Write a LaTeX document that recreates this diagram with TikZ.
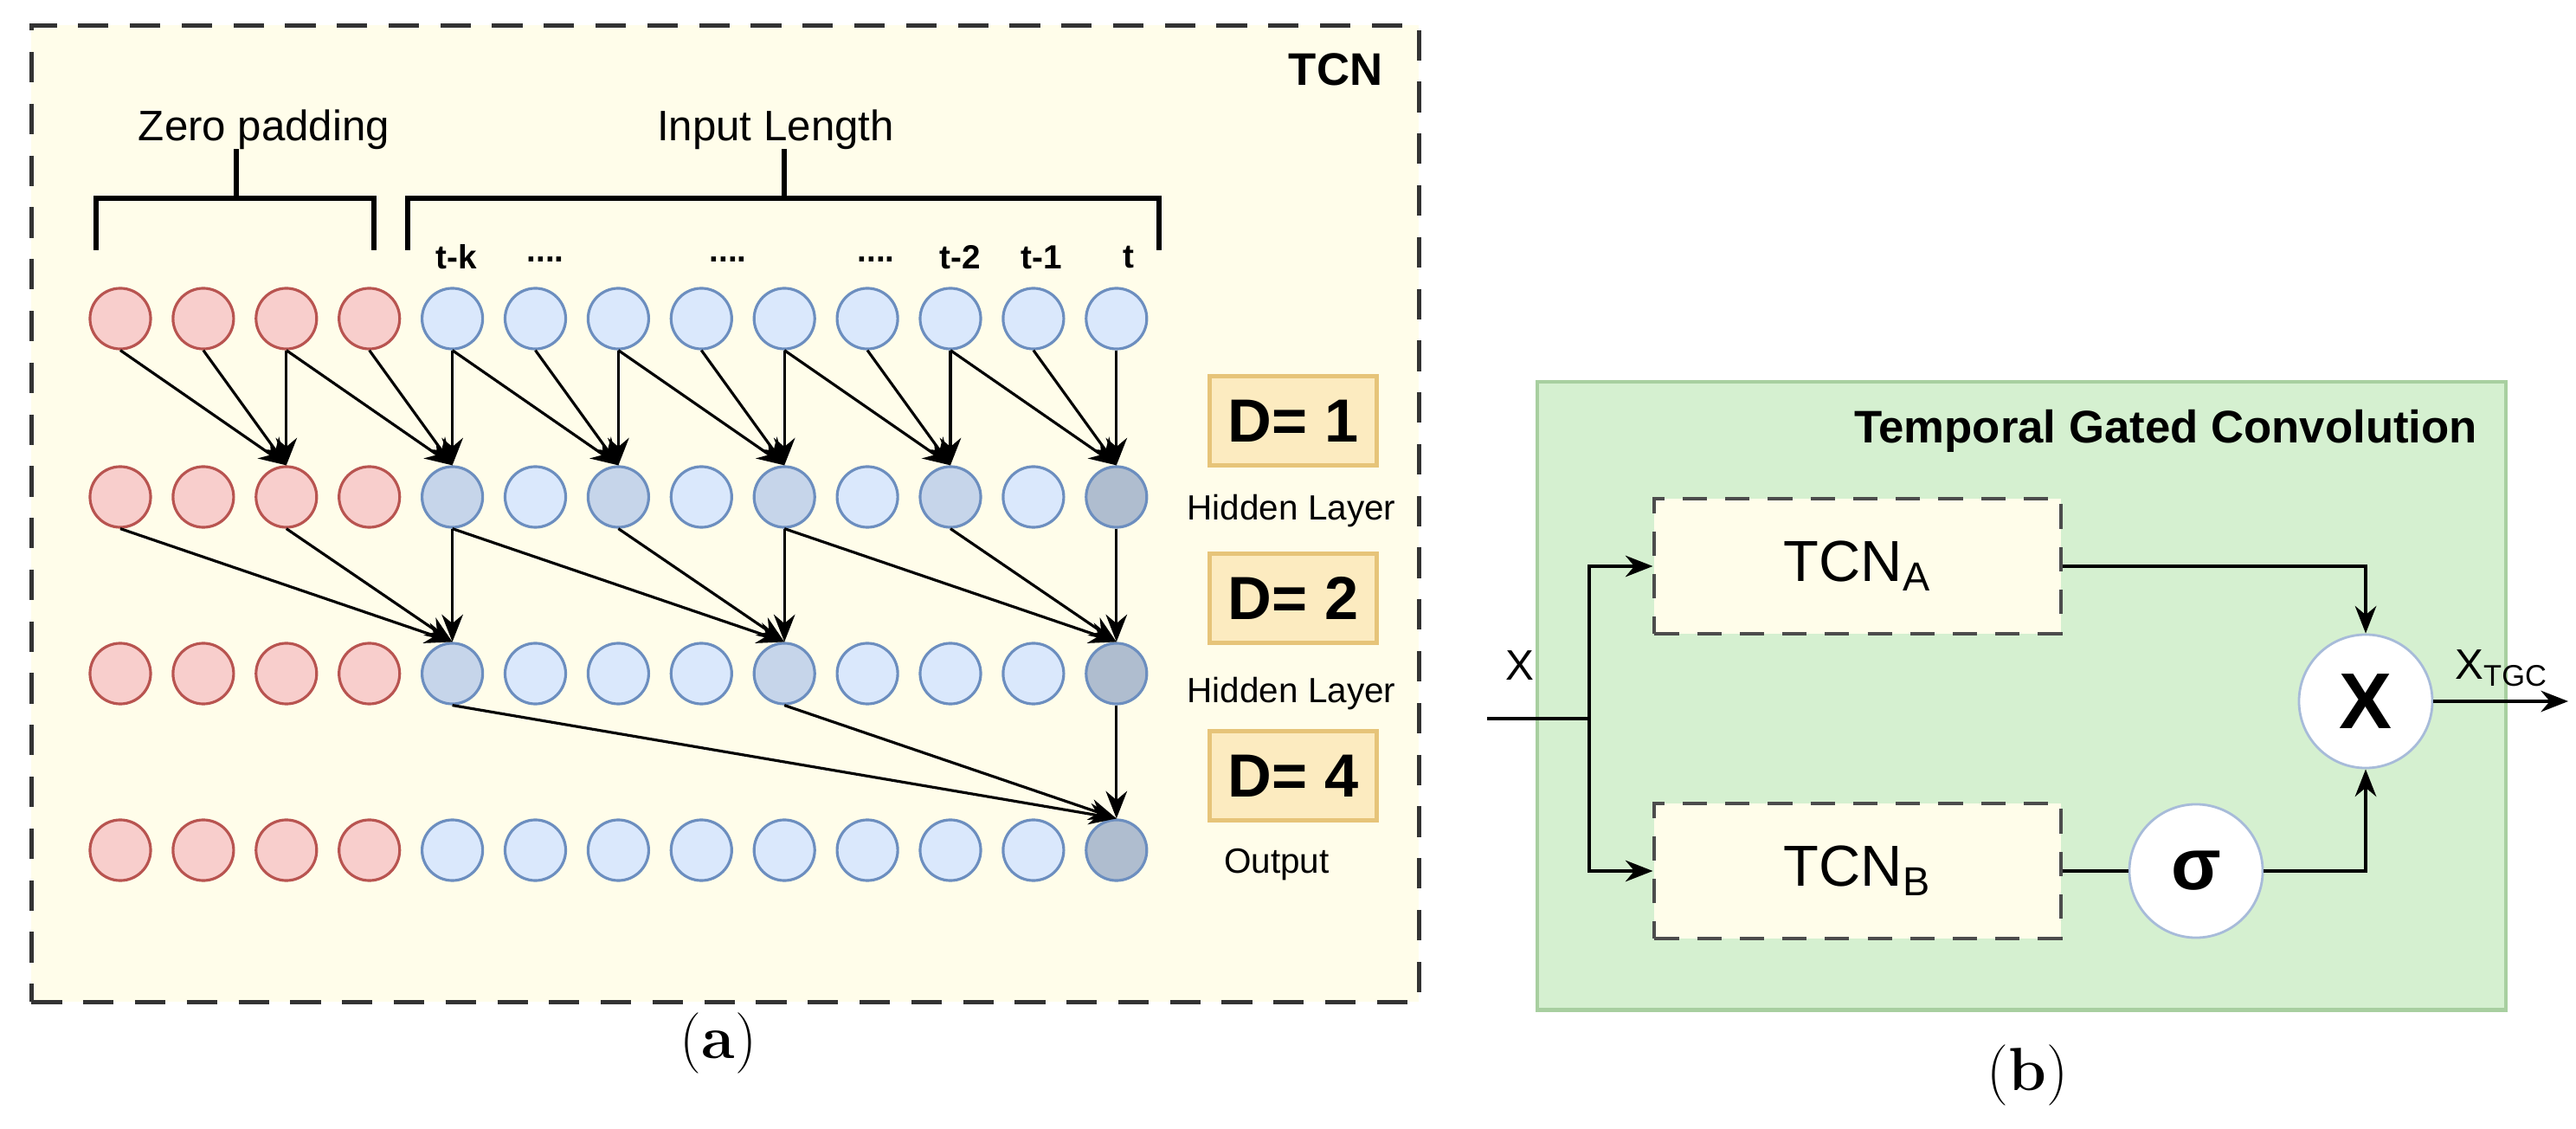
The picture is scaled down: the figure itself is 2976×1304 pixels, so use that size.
\documentclass[tikz,border=0pt]{standalone}
\usepackage{fontspec}
\newfontfamily\lsans{Liberation Sans}
\usetikzlibrary{arrows.meta}
\definecolor{zpf}{HTML}{F8CECC}\definecolor{zpd}{HTML}{B85450}
\definecolor{blf}{HTML}{DAE8FC}\definecolor{bld}{HTML}{6C8EBF}
\definecolor{midf}{HTML}{C6D5EA}\definecolor{dkf}{HTML}{AFBDCF}
\definecolor{yel}{HTML}{FFFDEA}\definecolor{grn}{HTML}{D5F0D0}\definecolor{grnd}{HTML}{A8CFA0}
\definecolor{df}{HTML}{FCEBC0}\definecolor{dd}{HTML}{E6C479}
\begin{document}
\begin{tikzpicture}[x=0.01cm,y=-0.01cm,
  cir/.style={circle,minimum size=0.7cm,inner sep=0pt,line width=0.9pt},
  zp/.style={cir,fill=zpf,draw=zpd},
  bl/.style={cir,fill=blf,draw=bld},
  mid/.style={cir,fill=midf,draw=bld},
  dk/.style={cir,fill=dkf,draw=bld},
  arr/.style={line width=0.9pt,-{Stealth[length=9pt,width=7pt]}},
  brk/.style={line width=1.6pt},
  lab/.style={font=\lsans\fontsize{14}{16}\selectfont},
  tl/.style={font=\lsans\bfseries\fontsize{11}{13}\selectfont},
  dbox/.style={fill=df,draw=dd,line width=1.2pt,minimum width=1.93cm,minimum height=1.03cm,font=\lsans\bfseries\fontsize{20}{22}\selectfont},
  hl/.style={font=\lsans\fontsize{11.5}{13}\selectfont},
  tbox/.style={fill=yel,draw=black!70,dash pattern=on 8pt off 6pt,line width=1.1pt,minimum width=4.69cm,minimum height=1.56cm,font=\lsans\fontsize{19}{22}\selectfont},
  opc/.style={circle,fill=white,draw=bld!60,line width=0.8pt,minimum size=1.54cm,inner sep=0pt}]
\useasboundingbox (0,0) rectangle (2976,1304);
% left panel
\node[fill=yel,draw=black!80,dash pattern=on 10pt off 7pt,line width=1.4pt,minimum width=16.02cm,minimum height=11.27cm,anchor=north west] (tcnbox) at (34,27) {};
\node[font=\lsans\bfseries\fontsize{15}{17}\selectfont] (tcnl) at (1543,80) {TCN};
\foreach \r/\y in {0/368,1/574,2/778,3/982}{
  \foreach \c in {0,...,3}{\node[zp] (n\r-\c) at ({139+95.9*\c},\y) {};}}
\foreach \c/\s in {4/bl,5/bl,6/bl,7/bl,8/bl,9/bl,10/bl,11/bl,12/bl}{\node[\s] (n0-\c) at ({139+95.9*\c},368) {};}
\foreach \c/\s in {4/mid,5/bl,6/mid,7/bl,8/mid,9/bl,10/mid,11/bl,12/dk}{\node[\s] (n1-\c) at ({139+95.9*\c},574) {};}
\foreach \c/\s in {4/mid,5/bl,6/bl,7/bl,8/mid,9/bl,10/bl,11/bl,12/dk}{\node[\s] (n2-\c) at ({139+95.9*\c},778) {};}
\foreach \c/\s in {4/bl,5/bl,6/bl,7/bl,8/bl,9/bl,10/bl,11/bl,12/dk}{\node[\s] (n3-\c) at ({139+95.9*\c},982) {};}
% arrows
\foreach \t in {2,4,6,8,10,12}{
  \pgfmathtruncatemacro\a{\t-2}\pgfmathtruncatemacro\b{\t-1}
  \draw[arr] (n0-\a.south) -- (n1-\t.north);
  \draw[arr] (n0-\b.south) -- (n1-\t.north);
  \draw[arr] (n0-\t.south) -- (n1-\t.north);}
\foreach \t in {4,8,12}{
  \pgfmathtruncatemacro\a{\t-4}\pgfmathtruncatemacro\b{\t-2}
  \draw[arr] (n1-\a.south) -- (n2-\t.north);
  \draw[arr] (n1-\b.south) -- (n2-\t.north);
  \draw[arr] (n1-\t.south) -- (n2-\t.north);}
\draw[arr] (n2-4.south) -- (n3-12.north);
\draw[arr] (n2-8.south) -- (n3-12.north);
\draw[arr] (n2-12.south) -- (n3-12.north);
% brackets
\coordinate (z1) at (111,289);\coordinate (z2) at (111,229);\coordinate (z3) at (432,229);\coordinate (z4) at (432,289);
\coordinate (zs) at (273,229);\coordinate (zt) at (273,172);
\draw[brk] (z1) -- (z2) -- (z3) -- (z4); \draw[brk] (zs) -- (zt);
\coordinate (i1) at (471,289);\coordinate (i2) at (471,229);\coordinate (i3) at (1339,229);\coordinate (i4) at (1339,289);
\coordinate (is) at (906,229);\coordinate (it) at (906,172);
\draw[brk] (i1) -- (i2) -- (i3) -- (i4); \draw[brk] (is) -- (it);
\node[lab] (zpl) at (305,150) {Zero padding};
\node[lab] (ill) at (896,150) {Input Length};
\node[tl] (l1) at (527,297) {t-k};
\node[tl] (l2) at (630,300) {....};
\node[tl] (l3) at (841,300) {....};
\node[tl] (l4) at (1012,300) {....};
\node[tl] (l5) at (1109,297) {t-2};
\node[tl] (l6) at (1203,297) {t-1};
\node[tl] (l7) at (1304,297) {t};
\node[dbox] (d1) at (1494,486) {D= 1};
\node[dbox] (d2) at (1494,691) {D= 2};
\node[dbox] (d3) at (1494,896) {D= 4};
\node[hl] (h1) at (1492,590) {Hidden Layer};
\node[hl] (h2) at (1492,801) {Hidden Layer};
\node[hl] (h3) at (1475,999) {Output};
\node[font=\fontsize{20}{24}\selectfont] (ca) at (830,1205) {(\textbf{a})};
% right panel
\node[fill=grn,draw=grnd,line width=1.2pt,minimum width=11.18cm,minimum height=7.25cm,anchor=north west] (gbox) at (1774,439) {};
\node[font=\lsans\bfseries\fontsize{15}{17}\selectfont] (gt) at (2502,498) {Temporal Gated Convolution};
\node[tbox] (ta) at (2146,654) {TCN\textsubscript{A}};
\node[tbox] (tb) at (2146,1006) {TCN\textsubscript{B}};
\node[opc,font=\lsans\bfseries\fontsize{26}{28}\selectfont] (mul) at (2733,810) {X};
\node[opc,font=\lsans\bfseries\fontsize{24}{26}\selectfont] (sig) at (2537,1006) {σ};
\coordinate (xin) at (1718,830);
\coordinate (jn) at (1836,830);
\coordinate (xout) at (2967,810);
\node[font=\lsans\fontsize{14}{16}\selectfont] (xl) at (1756,769) {X};
\node[font=\lsans\fontsize{14}{16}\selectfont] (xtl) at (2890,772) {X\textsubscript{TGC}};
\draw[line width=0.9pt] (xin) -- (jn);
\draw[arr] (jn) |- (ta.west);
\draw[arr] (jn) |- (tb.west);
\draw[arr] (ta.east) -| (mul.north);
\draw[line width=0.9pt] (tb.east) -- (sig.west);
\draw[arr] (sig.east) -| (mul.south);
\draw[arr] (mul.east) -- (xout);
\node[font=\fontsize{20}{24}\selectfont] (cb) at (2342,1242) {(\textbf{b})};
\end{tikzpicture}
\end{document}
